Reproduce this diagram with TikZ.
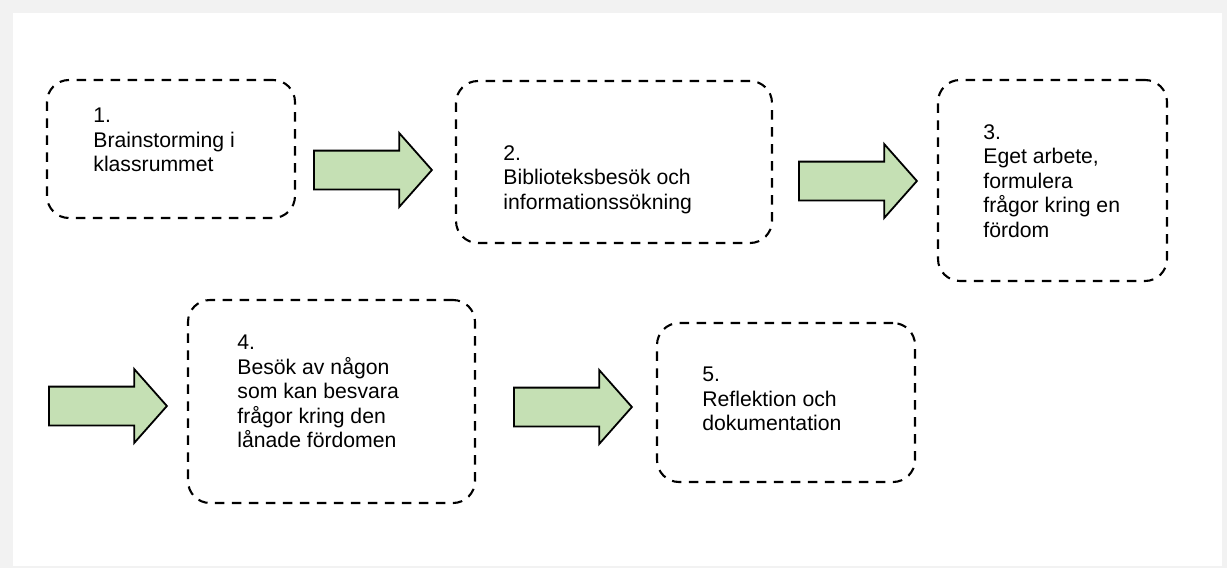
\documentclass[tikz,border=0pt]{standalone}
\usepackage{fontspec}
\setmainfont{Liberation Sans}
\usetikzlibrary{positioning,shapes.arrows}
\definecolor{framegray}{RGB}{242,242,242}
\definecolor{arrowgreen}{RGB}{197,224,180}
\newcommand{\steptextfont}{\fontsize{10.6pt}{12.25pt}\selectfont}
\begin{document}
\begin{tikzpicture}[x=0.5pt, y=-0.5pt,
    stepbox/.style={draw, dash pattern=on 4.75pt off 3.75pt, line width=1.05pt,
                    rounded corners=11pt, inner sep=0pt, outer sep=0pt},
    steptext/.style={inner sep=0pt, align=left, font=\steptextfont},
    blockarrow/.style={single arrow, draw=black, line width=0.9pt, fill=arrowgreen,
                       inner xsep=0pt, inner ysep=9.25pt, minimum height=59pt,
                       single arrow head extend=8.75pt, single arrow tip angle=97,
                       anchor=tail}]
    % frame
    \fill[framegray] (0,0) rectangle (1227,568);
    \fill[white] (13,13) rectangle (1222,566);
    \useasboundingbox (0,0) rectangle (1227,568);
    % steps
    \node (S1)[stepbox, minimum width=124pt, minimum height=69pt] at (171,149) {};
    \node (S2)[stepbox, minimum width=158pt, minimum height=81pt] at (614,162) {};
    \node (S3)[stepbox, minimum width=114.5pt, minimum height=100.5pt] at (1052.5,180.5) {};
    \node (S4)[stepbox, minimum width=143.5pt, minimum height=101.5pt] at (331.5,401.5) {};
    \node (S5)[stepbox, minimum width=129pt, minimum height=79.5pt] at (786,402.5) {};
    \node (s1)[steptext, below right=14pt and 23pt of S1.north west] {1.\\Brainstorming i\\klassrummet};
    \node (s2)[steptext, below right=32pt and 23.5pt of S2.north west] {2.\\Biblioteksbesök och\\informationssökning};
    \node (s3)[steptext, below right=22pt and 22.5pt of S3.north west] {3.\\Eget arbete,\\formulera\\frågor kring en\\fördom};
    \node (s4)[steptext, below right=17.5pt and 24.5pt of S4.north west] {4.\\Besök av någon\\som kan besvara\\frågor kring den\\lånade fördomen};
    \node (s5)[steptext, below right=22pt and 22.5pt of S5.north west] {5.\\Reflektion och\\dokumentation};
    % arrows
    \node (A12)[blockarrow] at (313,170) {};
    \node (A23)[blockarrow] at (798,181) {};
    \node (A34)[blockarrow] at (48,406) {};
    \node (A45)[blockarrow] at (513,407) {};
\end{tikzpicture}
\end{document}
